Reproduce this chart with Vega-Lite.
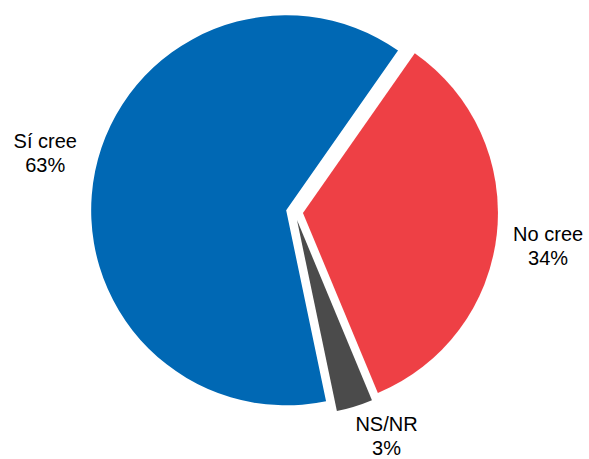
{
  "$schema": "https://vega.github.io/schema/vega-lite/v6.json",
  "width": 589,
  "height": 424,
  "autosize": "none",
  "padding": {"left": 0, "right": 0, "top": 0, "bottom": 35},
  "background": "white",
  "config": {"view": {"stroke": null}},
  "data": {
    "values": [
      {"categoria": "Sí cree", "valor": 63, "etiqueta": "Sí cree\n63%"},
      {"categoria": "No cree", "valor": 34, "etiqueta": "No cree\n34%"},
      {"categoria": "NS/NR", "valor": 3, "etiqueta": "NS/NR\n3%"}
    ]
  },
  "encoding": {
    "theta": {"field": "valor", "type": "quantitative", "stack": true, "scale": {"range": [2.9356, 9.2188]}},
    "order": {"field": "categoria", "type": "ordinal", "sort": "descending"}
  },
  "layer": [
    {
      "mark": {
        "type": "arc",
        "outerRadius": 195,
        "xOffset": {"expr": "8.5*sin(scale('theta', (datum.valor_start+datum.valor_end)/2))"},
        "yOffset": {"expr": "-8.5*cos(scale('theta', (datum.valor_start+datum.valor_end)/2))"}
      },
      "encoding": {
        "color": {
          "field": "categoria",
          "type": "nominal",
          "scale": {"domain": ["Sí cree", "No cree", "NS/NR"], "range": ["#0068B4", "#EE4045", "#4B4B4B"]},
          "legend": null
        }
      }
    },
    {
      "mark": {
        "type": "text",
        "font": "Liberation Sans",
        "fontSize": 20,
        "lineHeight": 24,
        "lineBreak": "\n",
        "align": "center",
        "baseline": "middle",
        "dy": -12,
        "color": "#000000",
        "radius": {"expr": "datum.valor < 5 ? 243 : 256"},
        "thetaOffset": {"expr": "datum.valor < 5 ? -0.088 : 0.028"}
      },
      "encoding": {
        "text": {"field": "etiqueta"}
      }
    }
  ]
}
